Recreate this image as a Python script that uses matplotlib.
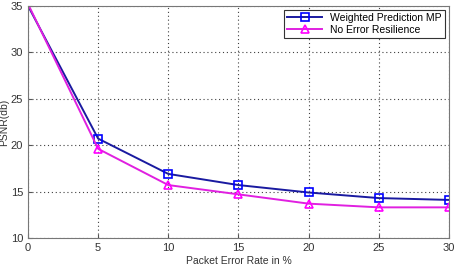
import numpy as np
import matplotlib
matplotlib.use('Agg')
import matplotlib.pyplot as plt

plt.rcParams['font.family'] = ['Liberation Sans', 'DejaVu Sans']

per = [0, 5, 10, 15, 20, 25, 30]
psnr_wp = [35.0, 20.7, 16.9, 15.7, 14.9, 14.3, 14.1]
psnr_none = [35.2, 19.6, 15.7, 14.7, 13.7, 13.3, 13.3]

fig = plt.figure(figsize=(4.59, 2.70), dpi=100)
ax = fig.add_axes([0.061, 0.1185, 0.917, 0.86])

# first point sits on the top edge, no marker visible there in the original
ax.plot(per, psnr_wp, color='#1a1aa0', marker='s', markersize=5.5, markerfacecolor='none',
        markeredgecolor='#0000ff', markeredgewidth=1.2, linewidth=1.4, markevery=slice(1, None),
        label='Weighted Prediction MP')
ax.plot(per, psnr_none, color='#e020e0', marker='^', markersize=6, markerfacecolor='none',
        markeredgecolor='#ff00ff', markeredgewidth=1.2, linewidth=1.4, markevery=slice(1, None),
        label='No Error Resilience')

ax.set_xlim(0, 30)
ax.set_ylim(10, 35)
ax.set_xticks(per)
ax.set_yticks([10, 15, 20, 25, 30, 35])
ax.grid(True, linestyle=(0, (1, 2.5)), color='#404040', linewidth=0.8)
ax.tick_params(direction='in', labelsize=8, length=3, colors='#555555', labelcolor='#333333')
for s in ax.spines.values():
    s.set_color('#777777')

ax.set_xlabel('Packet Error Rate in %', fontsize=7.5, color='#333333', labelpad=2)
ax.set_ylabel('PSNR(db)', fontsize=7.5, color='#333333', labelpad=1)

leg = ax.legend(loc='upper right', fontsize=7.5, fancybox=False, framealpha=1,
                edgecolor='#333333', handlelength=3.3, borderpad=0.3, labelspacing=0.15,
                borderaxespad=0.4)
leg.get_frame().set_linewidth(0.8)

fig.savefig('out.png', dpi=100)
